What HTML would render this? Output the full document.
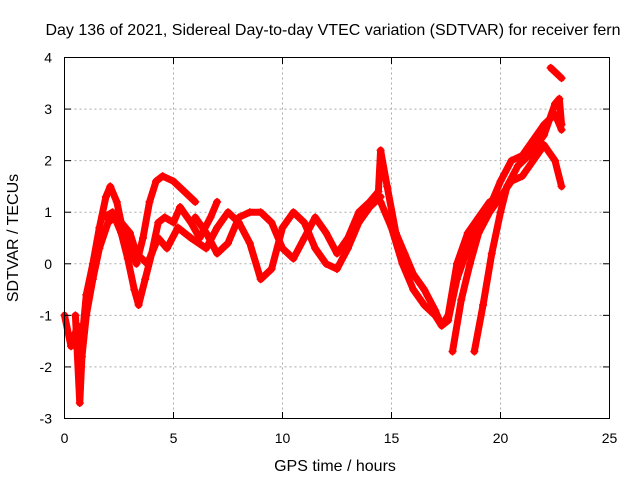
<!DOCTYPE html>
<html><head><meta charset="utf-8"><style>
body{margin:0;background:#fff}
svg text{font-family:"Liberation Sans",sans-serif;font-size:14px;fill:#000}
svg text.big{font-size:16px}
</style></head><body>
<svg width="640" height="480">
<g id="grid"></g>
<g id="marks"></g>
<rect x="64.5" y="57.5" width="545" height="361" fill="none" stroke="#000"/>
<g id="ticks"></g>
<text class="big" x="333" y="35" text-anchor="middle">Day 136 of 2021, Sidereal Day-to-day VTEC variation (SDTVAR) for receiver fern</text>
<text class="big" x="335" y="471" text-anchor="middle">GPS time / hours</text>
<text class="big" transform="translate(18,238) rotate(-90)" text-anchor="middle">SDTVAR / TECUs</text>
</svg>
<script>
const xTicks=[0,5,10,15,20,25];
const yTicks=[-3,-2,-1,0,1,2,3,4];
const trackA=[[0,-1.0],[0.3,-1.6],[0.6,-1.2],[0.8,-1.5],[1.0,-0.6],[1.3,0.0],[1.6,0.7],[1.9,1.3],[2.1,1.5],[2.4,1.2],[2.7,0.6],[3.0,0.3],[3.3,0.0],[3.6,0.5],[3.9,1.2],[4.2,1.6],[4.5,1.7],[5.0,1.6],[5.5,1.4],[6.0,1.2]];
const trackB=[[0.5,-1.0],[0.7,-2.7],[0.8,-1.8],[1.0,-1.0],[1.3,-0.3],[1.6,0.3],[2.0,0.8],[2.3,0.9],[2.6,0.6],[2.9,0.1],[3.2,-0.5],[3.4,-0.8],[3.7,-0.3],[4.0,0.2],[4.3,0.8],[4.6,0.9],[5.0,0.8],[5.3,1.1],[5.8,0.8],[6.2,0.5],[6.7,0.9],[7.0,1.2]];
const trackC=[[1.8,0.9],[2.2,1.0],[2.6,0.8],[3.0,0.6],[3.3,0.2],[3.8,0.0],[4.3,0.5],[4.7,0.3],[5.2,0.7],[5.8,0.5],[6.5,0.3],[7.0,0.7],[7.5,1.0],[8.0,0.8],[8.5,0.4],[9.0,-0.3],[9.5,-0.1],[10,0.7],[10.5,1.0],[11,0.8],[11.5,0.3],[12,0.0],[12.5,-0.1],[13,0.3],[13.5,0.8],[14,1.1],[14.5,1.3]];
const trackD=[[6.0,0.9],[6.5,0.6],[7.0,0.2],[7.5,0.4],[8,0.9],[8.5,1.0],[9,1.0],[9.5,0.8],[10,0.3],[10.5,0.1],[11,0.5],[11.5,0.9],[12,0.6],[12.5,0.2],[13,0.5],[13.5,1.0],[14,1.2],[14.4,1.4],[14.5,2.2],[14.8,1.5],[15.2,0.6],[15.6,0.2],[16,-0.2],[16.5,-0.5],[17,-0.9],[17.3,-1.2],[17.6,-1.1],[18,-0.3],[18.5,0.3],[19,0.8],[19.5,1.1],[20,1.6],[20.5,2.0],[21,2.1],[21.5,2.4],[22,2.7],[22.5,2.9],[22.8,2.6]];
const trackE=[[14.5,1.2],[15,0.7],[15.5,0.0],[16,-0.5],[16.5,-0.8],[17,-1.0],[17.3,-1.2],[17.6,-1.0],[18,0.0],[18.5,0.6],[19,0.9],[19.5,1.2]];
const trackF=[[17.8,-1.7],[18.2,-0.7],[18.6,0.0],[19,0.6],[19.5,1.0],[20,1.3],[20.5,1.6],[21,1.7],[21.5,2.0],[22,2.3],[22.5,2.0],[22.8,1.5]];
const trackG=[[18.8,-1.7],[19.2,-0.8],[19.6,0.2],[20,1.0],[20.3,1.5],[20.8,1.9],[21.3,2.1],[22,2.5],[22.5,3.1],[22.7,3.2],[22.8,2.7]];
const trackH=[[22.3,3.8],[22.8,3.6]];
const tracks=[trackA,trackB,trackC,trackD,trackE,trackF,trackG,trackH];
const NS="http://www.w3.org/2000/svg";
const X=v=>64.5+v*545/25, Y=v=>418.5-(v+3)*361/7;
function mk(t,a,p){const e=document.createElementNS(NS,t);for(const k in a)e.setAttribute(k,a[k]);p.appendChild(e);return e;}
const grid=document.getElementById('grid'),ticks=document.getElementById('ticks'),marks=document.getElementById('marks');
xTicks.forEach(v=>{const x=X(v);
 if(v>0&&v<25){const l=mk('line',{x1:x,x2:x,y1:57.5,y2:418.5,stroke:'#aaa','stroke-dasharray':'2,3'},grid);}
 mk('line',{x1:x,x2:x,y1:418.5,y2:412,stroke:'#000'},ticks);mk('line',{x1:x,x2:x,y1:57.5,y2:64,stroke:'#000'},ticks);
 const t=mk('text',{x:x,y:443,'text-anchor':'middle'},ticks);t.textContent=v;
 });
yTicks.forEach(v=>{const y=Y(v);
 if(v>-3&&v<4){const l=mk('line',{x1:64.5,x2:609.5,y1:y,y2:y,stroke:'#aaa','stroke-dasharray':'2,3'},grid);}
 mk('line',{x1:64.5,x2:71,y1:y,y2:y,stroke:'#000'},ticks);mk('line',{x1:609.5,x2:603,y1:y,y2:y,stroke:'#000'},ticks);
 const t=mk('text',{x:52,y:y+5,'text-anchor':'end'},ticks);t.textContent=v;
 });
tracks.forEach(tr=>{
 const p=mk('polyline',{points:tr.map(d=>X(d[0])+','+Y(d[1])).join(' '),fill:'none',stroke:'#f00','stroke-width':7,'stroke-linejoin':'round','stroke-linecap':'round'},marks);
 
 tr.forEach(d=>{const x=X(d[0]),y=Y(d[1]);
  const m=mk('path',{d:`M${x-4},${y}H${x+4}M${x},${y-4}V${y+4}`,stroke:'#f00','stroke-width':1.5},marks);
  });
});
</script>
</body></html>
